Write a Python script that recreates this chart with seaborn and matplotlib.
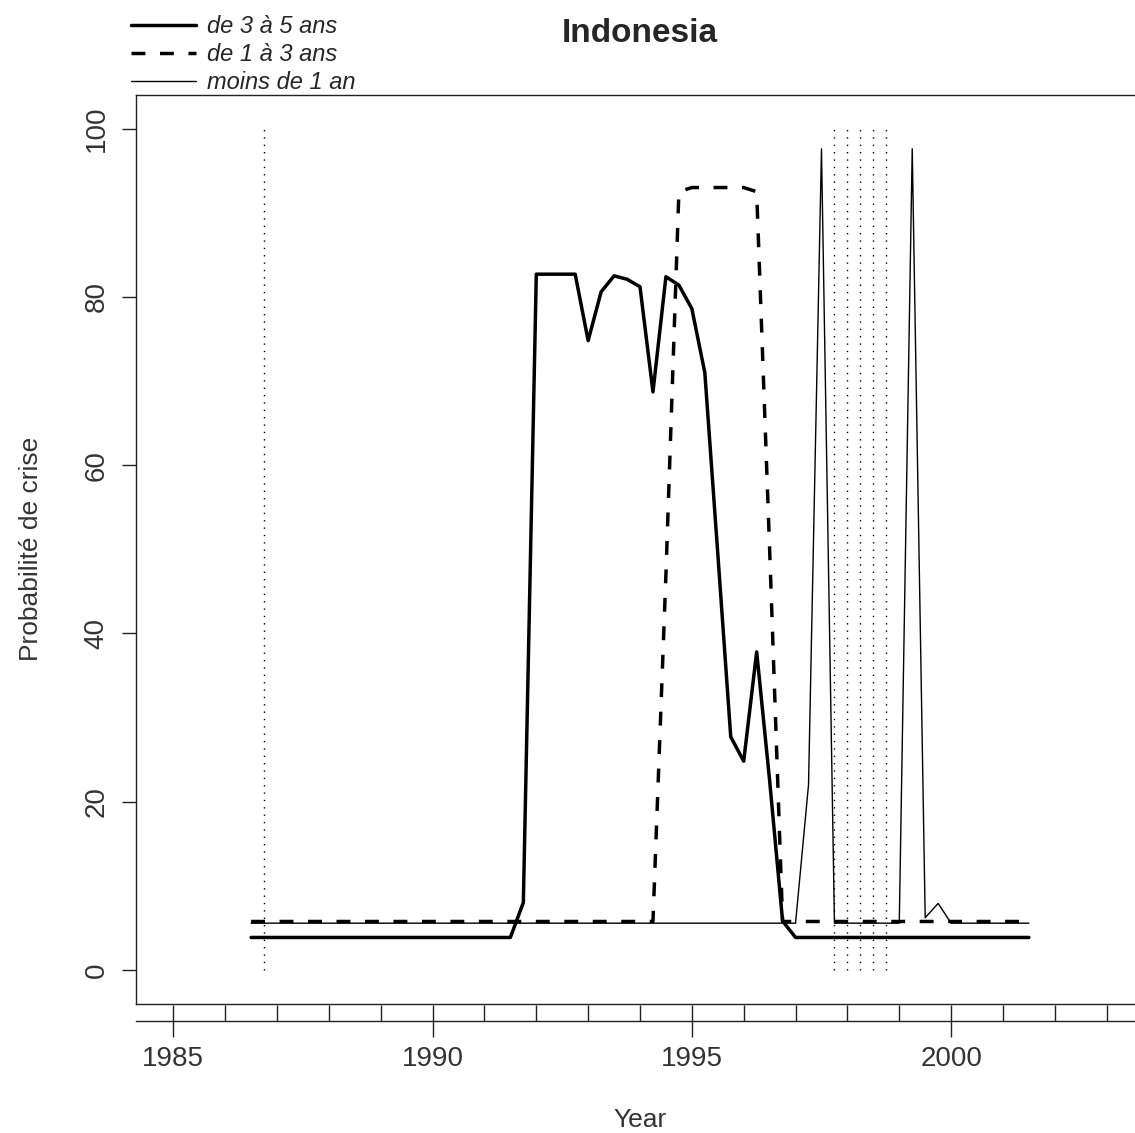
import numpy as np
import pandas as pd
import matplotlib
matplotlib.use("Agg")
import matplotlib.pyplot as plt
import seaborn as sns
from matplotlib.ticker import FixedLocator

# quarterly observations, 1986.5 .. 2001.5
years = np.arange(1986.5, 2001.51, 0.25)

# de 3 à 5 ans (thick solid)
p_3_5 = [
    3.85, 3.85, 3.85, 3.85, 3.85, 3.85, 3.85, 3.85, 3.85, 3.85,
    3.85, 3.85, 3.85, 3.85, 3.85, 3.85, 3.85, 3.85, 3.85, 3.85,
    3.85, 8.0, 82.7, 82.7, 82.7, 82.7, 74.8, 80.6, 82.5, 82.1,
    81.2, 68.7, 82.4, 81.4, 78.6, 71.0, 49.5, 27.7, 24.8, 37.8,
    22.5, 5.8, 3.85, 3.85, 3.85, 3.85, 3.85, 3.85, 3.85, 3.85,
    3.85, 3.85, 3.85, 3.85, 3.85, 3.85, 3.85, 3.85, 3.85, 3.85,
    3.85,
]

# de 1 à 3 ans (dashed)
p_1_3 = [
    5.75, 5.75, 5.75, 5.75, 5.75, 5.75, 5.75, 5.75, 5.75, 5.75,
    5.75, 5.75, 5.75, 5.75, 5.75, 5.75, 5.75, 5.75, 5.75, 5.75,
    5.75, 5.75, 5.75, 5.75, 5.75, 5.75, 5.75, 5.75, 5.75, 5.75,
    5.75, 5.75, 47.0, 92.5, 93.0, 93.0, 93.0, 93.0, 93.0, 92.5,
    50.0, 5.75, 5.75, 5.75, 5.75, 5.75, 5.75, 5.75, 5.75, 5.75,
    5.75, 5.75, 5.75, 5.75, 5.75, 5.75, 5.75, 5.75, 5.75, 5.75,
    5.75,
]

# moins de 1 an (thin solid)
p_lt1 = [
    5.55, 5.55, 5.55, 5.55, 5.55, 5.55, 5.55, 5.55, 5.55, 5.55,
    5.55, 5.55, 5.55, 5.55, 5.55, 5.55, 5.55, 5.55, 5.55, 5.55,
    5.55, 5.55, 5.55, 5.55, 5.55, 5.55, 5.55, 5.55, 5.55, 5.55,
    5.55, 5.55, 5.55, 5.55, 5.55, 5.55, 5.55, 5.55, 5.55, 5.55,
    5.55, 5.55, 5.55, 22.0, 97.6, 5.55, 5.55, 5.55, 5.55, 5.55,
    5.55, 97.6, 6.2, 7.9, 5.55, 5.55, 5.55, 5.55, 5.55, 5.55,
    5.55,
]

crisis_dates = [1986.75, 1997.75, 1998.0, 1998.25, 1998.5, 1998.75]

labels = ["de 3 à 5 ans", "de 1 à 3 ans", "moins de 1 an"]
y_ticks = [0, 20, 40, 60, 80, 100]
x_major = [1985, 1990, 1995, 2000]
x_minor = list(range(1984, 2004))

df = pd.DataFrame({"year": years, "p35": p_3_5, "p13": p_1_3, "p01": p_lt1})

sns.set_style("white")
plt.rcParams["font.family"] = ["Liberation Sans", "DejaVu Sans"]

W, H = 1135, 1133
fig = plt.figure(figsize=(W / 100, H / 100), dpi=100)
# plot box runs past the right edge of the picture, as in the original
ax = fig.add_axes([136 / W, 1 - 1003.5 / H, (1144 - 136) / W, (1003.5 - 95) / H])

sns.lineplot(data=df, x="year", y="p35", ax=ax, color="black", lw=2.5, label=labels[0])
sns.lineplot(data=df, x="year", y="p13", ax=ax, color="black", lw=2.5,
             linestyle=(0, (4.0, 4.2)), label=labels[1])
sns.lineplot(data=df, x="year", y="p01", ax=ax, color="black", lw=1.0, label=labels[2])

ax.vlines(crisis_dates, 0, 100, colors="black", linestyles=(0, (1, 4.3)), lw=1.0)

ax.set_xlim(1984.28, 2003.72)
ax.set_ylim(-4, 104)

for s in ax.spines.values():
    s.set_visible(True)
    s.set_linewidth(1.0)
    s.set_color("#222222")

ax.set_xticks([])
ax.set_xlabel("")
ax.set_yticks(y_ticks)
ax.set_yticklabels([str(v) for v in y_ticks], rotation=90, va="center", fontsize=20, color="#333333")
ax.tick_params(axis="y", direction="out", length=10, width=1.0, pad=9, color="#222222", left=True)

ax.set_ylabel("Probabilité de crise", fontsize=19, color="#333333")
ax.yaxis.set_label_coords(-0.104, 0.5)
ax.yaxis.label.set_verticalalignment("center")

# separate year axis below the box
sec = ax.secondary_xaxis(-17 / 908.5)
sec.spines["bottom"].set_linewidth(1.0)
sec.spines["bottom"].set_color("#222222")
sec.xaxis.set_major_locator(FixedLocator(x_major))
sec.xaxis.set_minor_locator(FixedLocator(x_minor))
sec.set_xticklabels([str(v) for v in x_major], fontsize=20, color="#333333")
sec.tick_params(axis="x", which="major", direction="inout", length=22.5, width=1.0, pad=7, color="#222222")
sec.tick_params(axis="x", which="minor", direction="in", length=11.5, width=1.0, color="#222222")
sec.set_xlabel("Year", fontsize=19, color="#333333", labelpad=26)

ax.set_title("Indonesia", fontsize=24, fontweight="bold", pad=38)

handles, lbls = ax.get_legend_handles_labels()
ax.legend(handles, lbls, loc="upper left", bbox_to_anchor=(131 / W, 1 - 15 / H),
          bbox_transform=fig.transFigure, frameon=False,
          prop={"style": "italic", "size": 17}, handlelength=2.75,
          handletextpad=0.45, labelspacing=0.22, borderpad=0, borderaxespad=0)

fig.savefig("out.png", dpi=100)
